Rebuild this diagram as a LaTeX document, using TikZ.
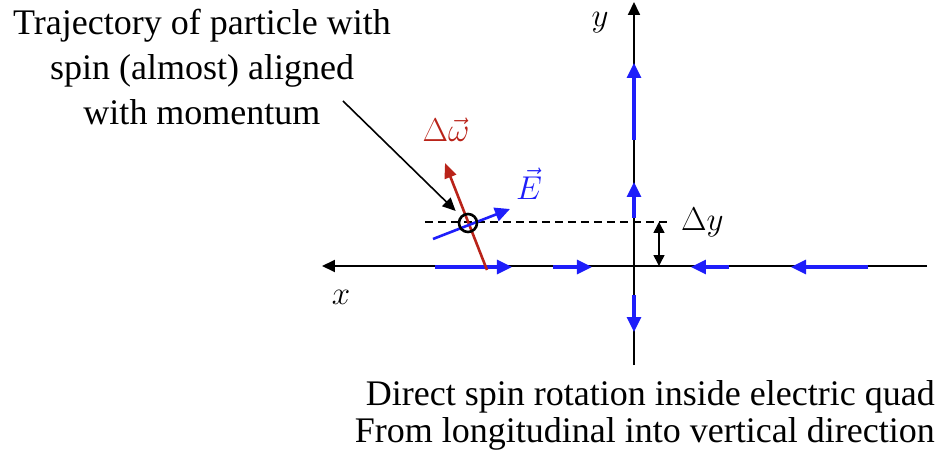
\RequirePackage{fix-cm}
\documentclass[tikz,border=0pt]{standalone}
\usepackage{fontspec}
\setmainfont{Liberation Serif}
\usetikzlibrary{arrows.meta}

\begin{document}
\begin{tikzpicture}[x=1pt, y=1pt]

\definecolor{fieldclr}{RGB}{30,30,250}
\definecolor{spinclr}{RGB}{185,35,25}

\tikzset{
  axisline/.style={draw=black, line width=1.8pt,
                   -{Triangle[length=13pt, width=12pt]}},
  fieldarrow/.style={draw=fieldclr, line width=3.2pt,
                     -{Triangle[length=15pt, width=14pt]}},
  spinarrow/.style={draw=spinclr, line width=2.6pt,
                    -{Triangle[length=15pt, width=12pt]}},
  pointer/.style={draw=black, line width=1.6pt,
                  -{Triangle[length=13pt, width=12pt]}},
  textlbl/.style={inner sep=0pt, font=\fontsize{36}{45}\selectfont},
  mathlbl/.style={inner sep=0pt, font=\fontsize{33}{33}\selectfont}
}

\useasboundingbox (-634,-200) rectangle (306,266);

% ---- (1) axes ----------------------------------------------------
\coordinate (O)    at (0,0);
\coordinate (xend) at (293,0);
\coordinate (xtip) at (-312,0);
\coordinate (ybot) at (0,-99);
\coordinate (ytip) at (0,264);
\draw[axisline] (xend) -- (xtip);
\draw[axisline] (ybot) -- (ytip);

\node[mathlbl] (xlab) at (-293,-31) {$x$};
\node[mathlbl] (ylab) at (-34,243) {$y$};

% ---- (2) offset of the trajectory --------------------------------
\coordinate (dashL) at (-209,44);
\coordinate (dashR) at (36,44);
\draw[line width=1.4pt, dash pattern=on 8pt off 5pt] (dashL) -- (dashR);

\coordinate (dytop) at (25,44);
\coordinate (dybot) at (25,0);
\draw[line width=1.6pt,
      {Triangle[length=11pt, width=11pt]}-{Triangle[length=11pt, width=11pt]}]
      (dytop) -- (dybot);
\node[mathlbl, anchor=west] (dylab) at (47,44) {$\Delta y$};

% ---- (3) quadrupole field along the axes -------------------------
\foreach \xa/\ya/\xb/\yb in {0/126/0/203, 0/48/0/84, 0/-29/0/-66,
                             -199/-1/-122/-1, -81/-1/-42/-1,
                             95/-1/57/-1, 234/-1/157/-1}{%
  \draw[fieldarrow] (\xa,\ya) -- (\xb,\yb);
}

% ---- (4) particle, spin and local field --------------------------
\coordinate (spinbot) at (-147,-4);
\coordinate (spintop) at (-189,103);
\draw[spinarrow] (spinbot) -- (spintop);
\node[mathlbl, text=spinclr] (omlab) at (-188,136) {$\Delta\vec{\omega}$};

\coordinate (efrom) at (-201,27);
\coordinate (eto)   at (-124,57);
\draw[fieldarrow, line width=2.6pt] (efrom) -- (eto);
\node[mathlbl, text=fieldclr] (elab) at (-105,82) {$\vec{E}$};

\node[circle, draw=black, line width=2.6pt, minimum size=18pt,
      inner sep=0pt] (ptcl) at (-166,43) {};

% ---- (5) texts ---------------------------------------------------
\node[textlbl, align=center, anchor=base] (traj) at (-432,141)
      {Trajectory of particle with\\spin (almost) aligned\\with momentum};
\coordinate (trajend) at (-291,165);
\draw[pointer, shorten >=7pt] (trajend) -- (ptcl);

\node[textlbl, font=\fontsize{36}{37}\selectfont, align=right,
      anchor=base east] (caption) at (301,-176)
      {Direct spin rotation inside electric quad\\From longitudinal into vertical direction};

\end{tikzpicture}
\end{document}
